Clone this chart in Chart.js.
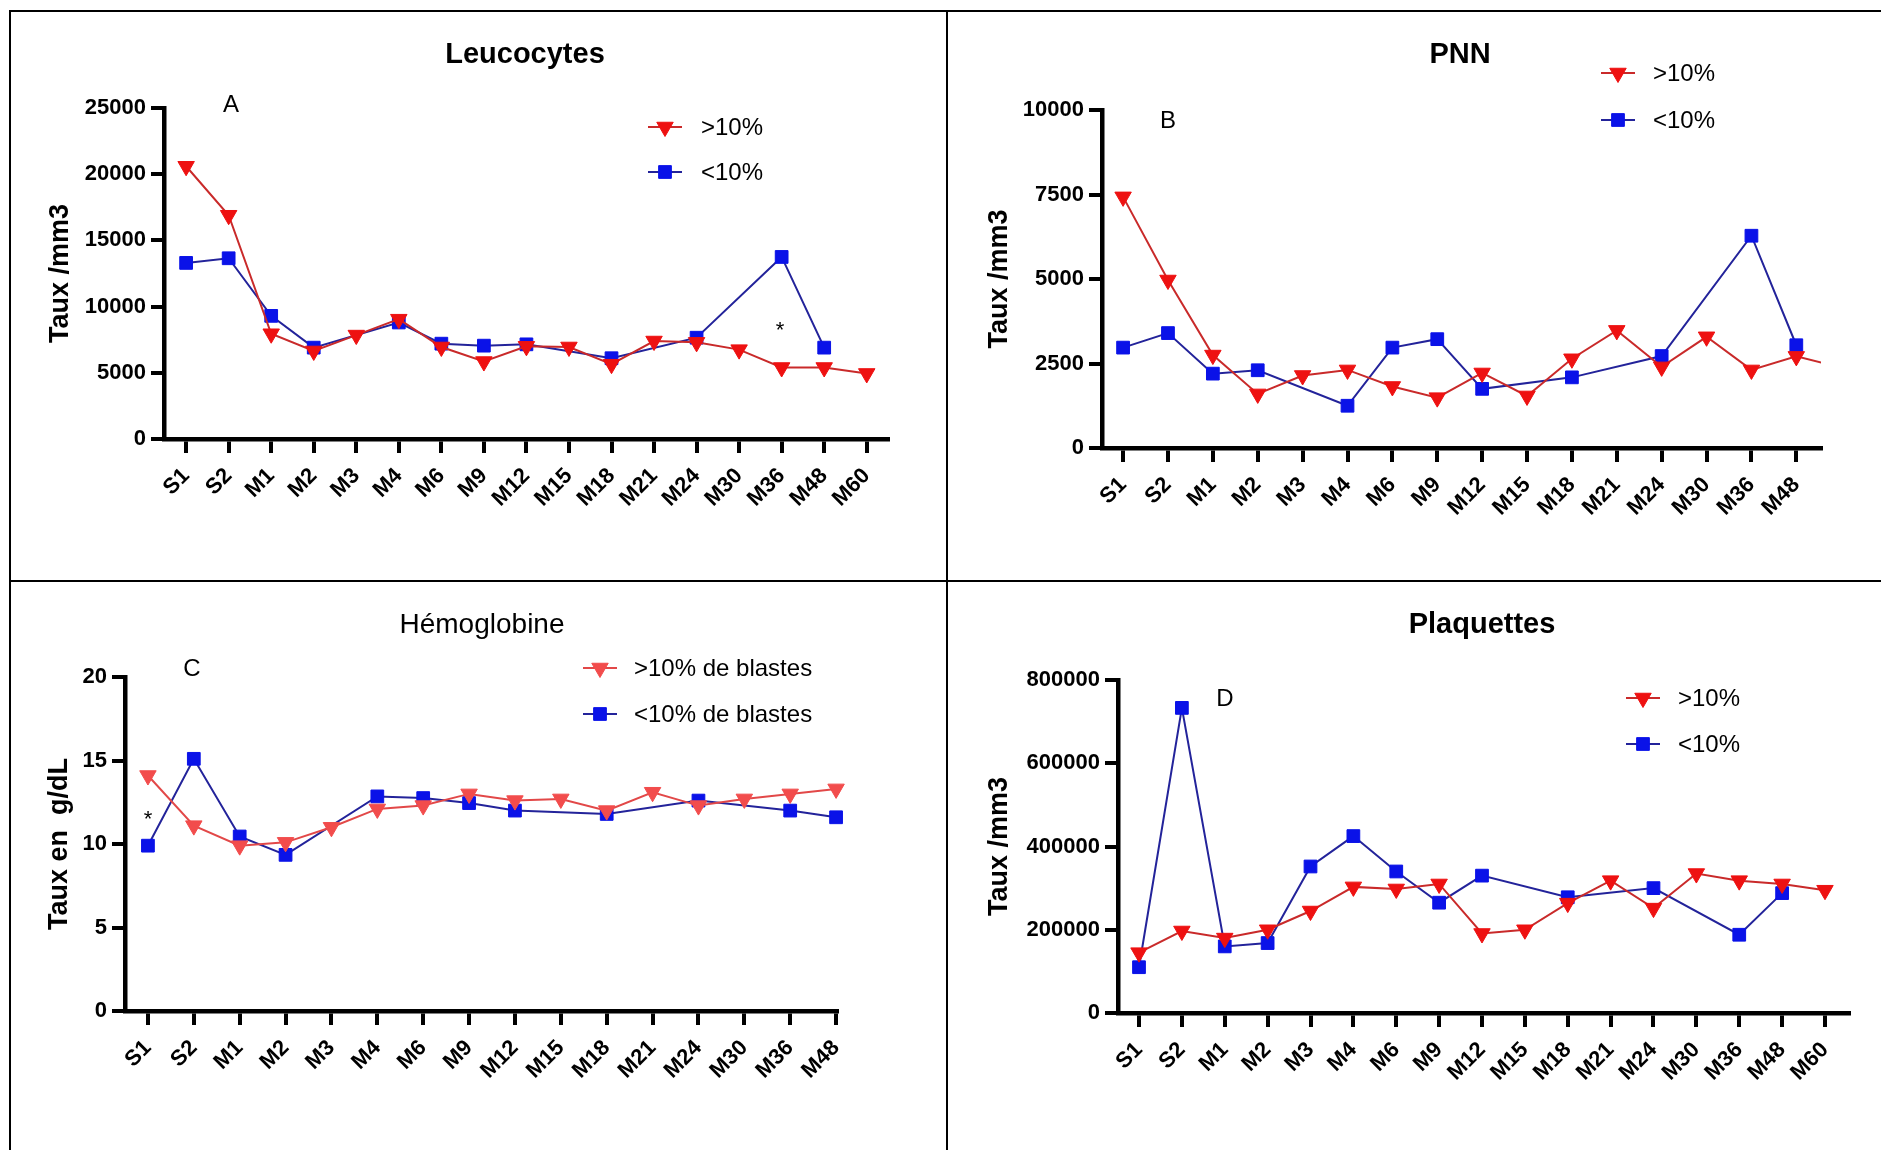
<!DOCTYPE html>
<html>
<head>
<meta charset="utf-8">
<script src="https://cdn.jsdelivr.net/npm/chart.js@4.4.1/dist/chart.umd.min.js"></script>
<style>
  html, body { margin: 0; padding: 0; background: #fff; }
  body { width: 1881px; height: 1150px; position: relative; overflow: hidden; }
  canvas { position: absolute; left: 0; top: 0; }
  .ln { position: absolute; background: #000; }
</style>
</head>
<body>
<div class="ln" style="left:9px;top:10px;width:1.5px;height:1140px"></div>
<div class="ln" style="left:9px;top:10px;width:1872px;height:1.5px"></div>
<div class="ln" style="left:946px;top:10px;width:2px;height:1140px"></div>
<div class="ln" style="left:9px;top:580px;width:1872px;height:1.5px"></div>
<canvas id="cA" width="1881" height="1150"></canvas>
<canvas id="cB" width="1881" height="1150"></canvas>
<canvas id="cC" width="1881" height="1150"></canvas>
<canvas id="cD" width="1881" height="1150"></canvas>
<script>
// ---------- DATA ----------
const timepoints = ['S1','S2','M1','M2','M3','M4','M6','M9','M12','M15','M18','M21','M24','M30','M36','M48','M60'];

const leucoAbove = [20600, 16900, 7950, 6650, 7850, 9050, 6950, 5850, 7000, 6950, 5650, 7400, 7300, 6750, 5400, 5400, 4950];
const leucoBelow = [13300, 13650, 9300, 6900, null, 8800, 7200, 7050, 7150, null, 6100, null, 7650, null, 13750, 6900, null];

const pnnAbove = [7430, 4970, 2750, 1600, 2145, 2310, 1820, 1490, 2220, 1540, 2640, 3480, 2400, 3290, 2310, 2710, 2380];
const pnnBelow = [2970, 3400, 2200, 2300, null, 1250, 2970, 3220, 1750, null, 2090, null, 2720, null, 6280, 3040];

const hbAbove = [14.1, 11.1, 9.9, 10.1, 11.0, 12.1, 12.3, 13.0, 12.6, 12.7, 12.0, 13.1, 12.3, 12.7, 13.0, 13.3];
const hbBelow = [9.9, 15.1, 10.45, 9.35, null, 12.85, 12.75, 12.45, 12.0, null, 11.8, null, 12.6, null, 12.0, 11.6];

const pltAbove = [145000, 197000, 180000, 200000, 245000, 303000, 298000, 310000, 191000, 200000, 264000, 318000, 252000, 335000, 318000, 310000, 295000];
const pltBelow = [110000, 733000, 160000, 168000, 352000, 425000, 340000, 265000, 330000, null, 278000, null, 300000, null, 188000, 288000, null];

// ---------- STYLE / LAYOUT ----------
const FAMILY = '"Liberation Sans", Arial, Helvetica, sans-serif';
const W = 1881, H = 1150;

const decor = {
  id: 'decor',
  afterDraw(chart, args, o) {
    const ctx = chart.ctx;
    ctx.save();
    ctx.fillStyle = '#000';
    ctx.textBaseline = 'middle';
    ctx.textAlign = 'center';
    ctx.font = o.titleFont;
    ctx.fillText(o.title, o.titleX, o.titleY);
    ctx.font = '24px ' + FAMILY;
    ctx.fillText(o.letter, o.letterX, o.letterY);
    if (o.star) {
      ctx.textBaseline = 'alphabetic';
      ctx.font = '22px ' + FAMILY;
      ctx.fillText('*', o.star[0], o.star[1] + 12);
      ctx.textBaseline = 'middle';
    }
    ctx.textAlign = 'left';
    ctx.font = '24px ' + FAMILY;
    chart.data.datasets.forEach((ds, i) => {
      const y = o.legendRows[i];
      ctx.strokeStyle = ds.borderColor;
      ctx.lineWidth = 2;
      ctx.beginPath();
      ctx.moveTo(o.legendX - 17, y);
      ctx.lineTo(o.legendX + 17, y);
      ctx.stroke();
      ctx.fillStyle = ds.pointBackgroundColor;
      ctx.strokeStyle = ds.pointBorderColor;
      ctx.lineWidth = 1;
      Chart.helpers.drawPoint(ctx, {pointStyle: ds.pointStyle, rotation: ds.pointRotation || 0, radius: ds.pointRadius, borderWidth: 1}, o.legendX, y);
      ctx.fillStyle = '#000';
      ctx.fillText(ds.label, o.legendTextX, y + 1);
    });
    ctx.restore();
  }
};

function series(values) {
  return values.map((v, i) => ({x: i, y: v}));
}

function makeChart(id, p) {
  const left = p.yTitleX - 16.2;
  const yW = p.axisLeft - left;
  const xH = 100;
  const red = p.redMarker, redLine = p.redLine;
  new Chart(document.getElementById(id), {
    type: 'line',
    data: {
      datasets: [
        {
          label: p.labels[0], data: series(p.above),
          borderColor: redLine, backgroundColor: red,
          pointBackgroundColor: red, pointBorderColor: red, pointBorderWidth: 1,
          pointStyle: 'triangle', pointRotation: 180, pointRadius: 9.5,
          borderWidth: 2, spanGaps: true, tension: 0, clip: p.clip
        },
        {
          label: p.labels[1], data: series(p.below),
          borderColor: '#23239a', backgroundColor: '#0a12e8',
          pointBackgroundColor: '#0a12e8', pointBorderColor: '#0a12e8', pointBorderWidth: 1,
          pointStyle: 'rect', pointRadius: 9,
          borderWidth: 2, spanGaps: true, tension: 0, clip: p.clip
        }
      ]
    },
    options: {
      responsive: false,
      animation: false,
      devicePixelRatio: 1,
      events: [],
      layout: {
        padding: { left: left, top: p.axisTop, right: W - p.axisRight, bottom: H - p.axisBottom - xH }
      },
      plugins: {
        legend: { display: false },
        tooltip: { enabled: false },
        title: { display: false },
        decor: p.decor
      },
      scales: {
        x: {
          type: 'linear',
          min: p.xMin, max: p.xMax,
          afterBuildTicks: (s) => {
            s.ticks = timepoints.map((_, i) => ({value: i})).filter(t => t.value <= s.max + 1e-9 && t.value >= s.min - 1e-9);
          },
          afterFit: (s) => { s.height = xH; },
          ticks: {
            callback: (v) => timepoints[v],
            autoSkip: false, maxRotation: 45, minRotation: 45,
            color: '#000', padding: 10,
            font: { family: FAMILY, size: 22, weight: 'bold' }
          },
          grid: { drawOnChartArea: false, drawTicks: true, tickLength: 14, tickWidth: 4, lineWidth: 4, tickColor: '#000', color: '#000' },
          border: { display: true, width: 4.5, color: '#000' }
        },
        y: {
          min: 0, max: p.yMax,
          afterFit: (s) => { s.width = yW; },
          ticks: {
            stepSize: p.yStep,
            callback: (v) => String(v),
            color: '#000', padding: 5,
            font: { family: FAMILY, size: 22, weight: 'bold' }
          },
          title: {
            display: true, text: p.yTitle, color: '#000', padding: 0,
            font: { family: FAMILY, size: 27, weight: 'bold' }
          },
          grid: { drawOnChartArea: false, drawTicks: true, tickLength: 13, tickWidth: 4, lineWidth: 4, tickColor: '#000', color: '#000' },
          border: { display: true, width: 4.5, color: '#000' }
        }
      }
    },
    plugins: [decor]
  });
}

const boldTitle = 'bold 29px ' + FAMILY;
const plainTitle = '28px ' + FAMILY;

makeChart('cA', {
  above: leucoAbove, below: leucoBelow, labels: ['>10%', '<10%'],
  axisLeft: 164, axisRight: 888, axisTop: 108, axisBottom: 439,
  xMin: -0.52, xMax: 16.5, yMax: 25000, yStep: 5000,
  yTitle: 'Taux /mm3', yTitleX: 61,
  redMarker: '#ee1111', redLine: '#c92a2a', clip: false,
  decor: { title: 'Leucocytes', titleFont: boldTitle, titleX: 525, titleY: 55,
           letter: 'A', letterX: 231, letterY: 105, star: [780, 325],
           legendX: 665, legendTextX: 701, legendRows: [127, 172] }
});

makeChart('cB', {
  above: pnnAbove, below: pnnBelow, labels: ['>10%', '<10%'],
  axisLeft: 1102, axisRight: 1821, axisTop: 110, axisBottom: 448,
  xMin: -0.47, xMax: 15.55, yMax: 10000, yStep: 2500,
  yTitle: 'Taux /mm3', yTitleX: 1000,
  redMarker: '#ee1111', redLine: '#c92a2a', clip: {left: false, top: false, right: 0, bottom: false},
  decor: { title: 'PNN', titleFont: boldTitle, titleX: 1460, titleY: 55,
           letter: 'B', letterX: 1168, letterY: 121, star: null,
           legendX: 1618, legendTextX: 1653, legendRows: [73, 120] }
});

makeChart('cC', {
  above: hbAbove, below: hbBelow, labels: ['>10% de blastes', '<10% de blastes'],
  axisLeft: 125, axisRight: 837, axisTop: 677, axisBottom: 1011,
  xMin: -0.5, xMax: 15.02, yMax: 20, yStep: 5,
  yTitle: 'Taux en  g/dL', yTitleX: 60,
  redMarker: '#f24c4c', redLine: '#e24848', clip: false,
  decor: { title: 'Hémoglobine', titleFont: plainTitle, titleX: 482, titleY: 625,
           letter: 'C', letterX: 192, letterY: 669, star: [148, 814],
           legendX: 600, legendTextX: 634, legendRows: [668, 714] }
});

makeChart('cD', {
  above: pltAbove, below: pltBelow, labels: ['>10%', '<10%'],
  axisLeft: 1118, axisRight: 1849, axisTop: 680, axisBottom: 1013,
  xMin: -0.49, xMax: 16.56, yMax: 800000, yStep: 200000,
  yTitle: 'Taux /mm3', yTitleX: 1000,
  redMarker: '#ee1111', redLine: '#c92a2a', clip: false,
  decor: { title: 'Plaquettes', titleFont: boldTitle, titleX: 1482, titleY: 625,
           letter: 'D', letterX: 1225, letterY: 699, star: null,
           legendX: 1643, legendTextX: 1678, legendRows: [698, 744] }
});
</script>
</body>
</html>
